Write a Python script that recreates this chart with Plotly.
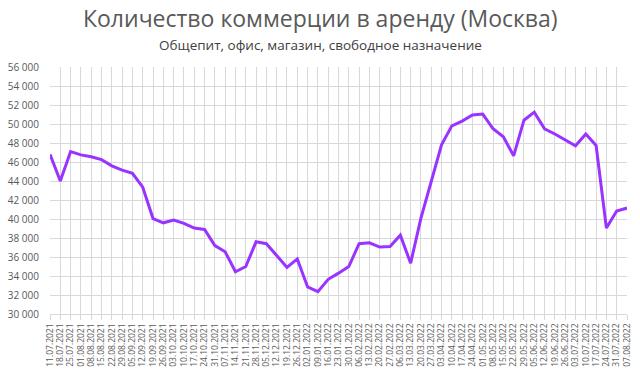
import plotly.graph_objects as go
import datetime as dt

start = dt.date(2021, 7, 11)
dates = [(start + dt.timedelta(weeks=i)).strftime("%d.%m.%Y") for i in range(57)]

values = [
    46800, 44000, 47100, 46750, 46550, 46250, 45600, 45150, 44800, 43350,
    40050, 39600, 39900, 39550, 39050, 38900, 37200, 36550, 34450, 35000,
    37600, 37400, 36150, 34900, 35800, 32850, 32350, 33650, 34300, 35000,
    37400, 37500, 37050, 37100, 38300, 35350, 40100, 44000, 47800, 49800,
    50300, 50950, 51050, 49500, 48650, 46650, 50400, 51250, 49500, 48950,
    48350, 47700, 48950, 47750, 39050, 40850, 41150,
]

title = "Количество коммерции в аренду (Москва)"
subtitle = "Общепит, офис, магазин, свободное назначение"

fig = go.Figure()
fig.add_trace(go.Scatter(
    x=dates, y=values, mode="lines",
    line=dict(color="#9933ff", width=3),
    hoverinfo="x+y",
))

T, B, L, R = 67, 57, 50, 13
H = 371 - T - B
W = 640 - L - R

fig.update_layout(
    width=640, height=371,
    margin=dict(l=L, r=R, t=T, b=B, autoexpand=False),
    paper_bgcolor="white", plot_bgcolor="white",
    separators=", ",
    showlegend=False,
    font=dict(family="Open Sans", color="#595959"),
)
fig.add_annotation(text=title, xref="paper", yref="paper", x=(320 - L) / W, y=1 + (T - 18) / H,
                   showarrow=False, font=dict(size=23, color="#595959"), xanchor="center", yanchor="middle",
                   borderpad=0)
fig.add_annotation(text=subtitle, xref="paper", yref="paper", x=(320.5 - L) / W, y=1 + (T - 45) / H,
                   showarrow=False, font=dict(size=13.5, color="#404040"), xanchor="center", yanchor="middle",
                   borderpad=0)

fig.update_xaxes(
    type="category", range=[0, 56],
    showgrid=True, gridcolor="#d9d9d9", gridwidth=1,
    showline=True, linecolor="#d9d9d9", linewidth=1,
    ticks="outside", ticklen=5, tickcolor="#d9d9d9",
    tickangle=-90, tickfont=dict(size=8.5, color="#595959"),
    dtick=1, zeroline=False, automargin=False,
)
fig.update_yaxes(
    range=[30000, 56000], dtick=2000, tickformat=",d",
    showgrid=True, gridcolor="#d9d9d9", gridwidth=1,
    showline=False, zeroline=False,
    tickfont=dict(size=10, color="#595959"), ticks="",
    ticklabelstandoff=10, automargin=False,
)

fig.write_html("out.html")
